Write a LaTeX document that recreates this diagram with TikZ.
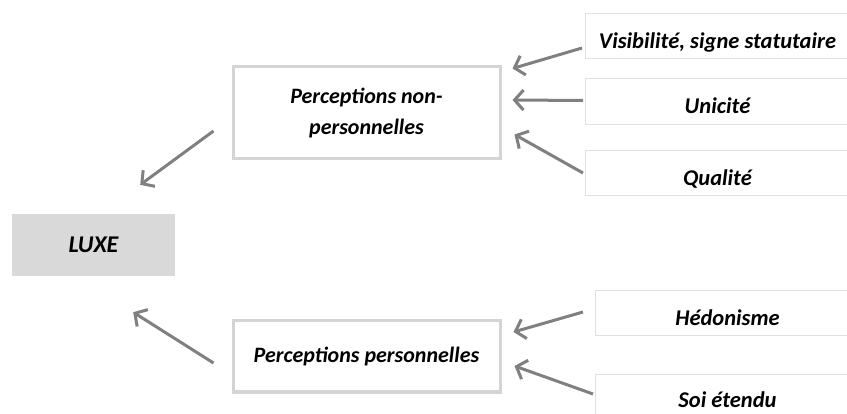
\documentclass[tikz,border=0pt]{standalone}
\usepackage{fontspec}
\setmainfont{Carlito}
\usepackage{xcolor}
\usetikzlibrary{arrows.meta,positioning,calc}

\tikzset{
	luxebox/.style={fill=black!15,minimum width=163pt,minimum height=62pt,inner sep=0pt,font=\fontsize{24}{28}\selectfont\bfseries\itshape},
	catbox/.style={draw=black!17,line width=3pt,fill=white,minimum width=267pt,inner sep=0pt,align=center,font=\fontsize{22}{31}\selectfont\bfseries\itshape},
	itembox/.style={draw=black!12,line width=1pt,fill=white,anchor=north west,minimum width=264pt,inner sep=0pt,text height=35pt,text depth=10pt,font=\fontsize{22.5}{27}\selectfont\bfseries\itshape},
	arrow/.style={draw=black!50,line width=3pt,-{Straight Barb[length=9pt,width=20pt,line width=3pt]}}
}

\begin{document}
\begin{tikzpicture}[x=1pt,y=-1pt]
	  	\useasboundingbox (0,0) rectangle (847,414);
	  	\node[luxebox] (luxe) at (93.5,245) {LUXE};
	  	\node[catbox,minimum height=92pt] (nonpers) at (366.5,113) {Perceptions non-\\personnelles};
	  	\node[catbox,minimum height=71pt] (pers) at (366.5,356.5) {Perceptions personnelles};
	  	\node[itembox] (vis) at (585,13) {Visibilité, signe statutaire};
	  	\node[itembox,text depth=11pt] (uni) at (585,78) {Unicité};
	  	\node[itembox] (qual) at (585,150) {Qualité};
	  	\node[itembox] (hedo) at (595,290) {Hédonisme};
	  	\node[itembox,text height=33pt] (soi) at (595,374) {Soi étendu};
	  	\draw[arrow] ([shift={(-18,18)}]nonpers.west) -- ([shift={(-35,-29)}]luxe.north east);
	  	\draw[arrow] ([shift={(-18,6.5)}]pers.west) -- ([shift={(-42,36)}]luxe.south east);
	  	\draw[arrow] ([shift={(-3,12)}]vis.west) -- ([shift={(11,3)}]nonpers.north east);
	  	\draw[arrow] ([shift={(-2,-1)}]uni.west) -- ([shift={(11,-13)}]nonpers.east);
	  	\draw[arrow] ([shift={(-2,0)}]qual.west) -- ([shift={(13,-26)}]nonpers.south east);
	  	\draw[arrow] ([shift={(-12,-1)}]hedo.west) -- ([shift={(12,-24.5)}]pers.east);
	  	\draw[arrow] ([shift={(-2,-2)}]soi.west) -- ([shift={(13,9.5)}]pers.east);
\end{tikzpicture}
\end{document}
